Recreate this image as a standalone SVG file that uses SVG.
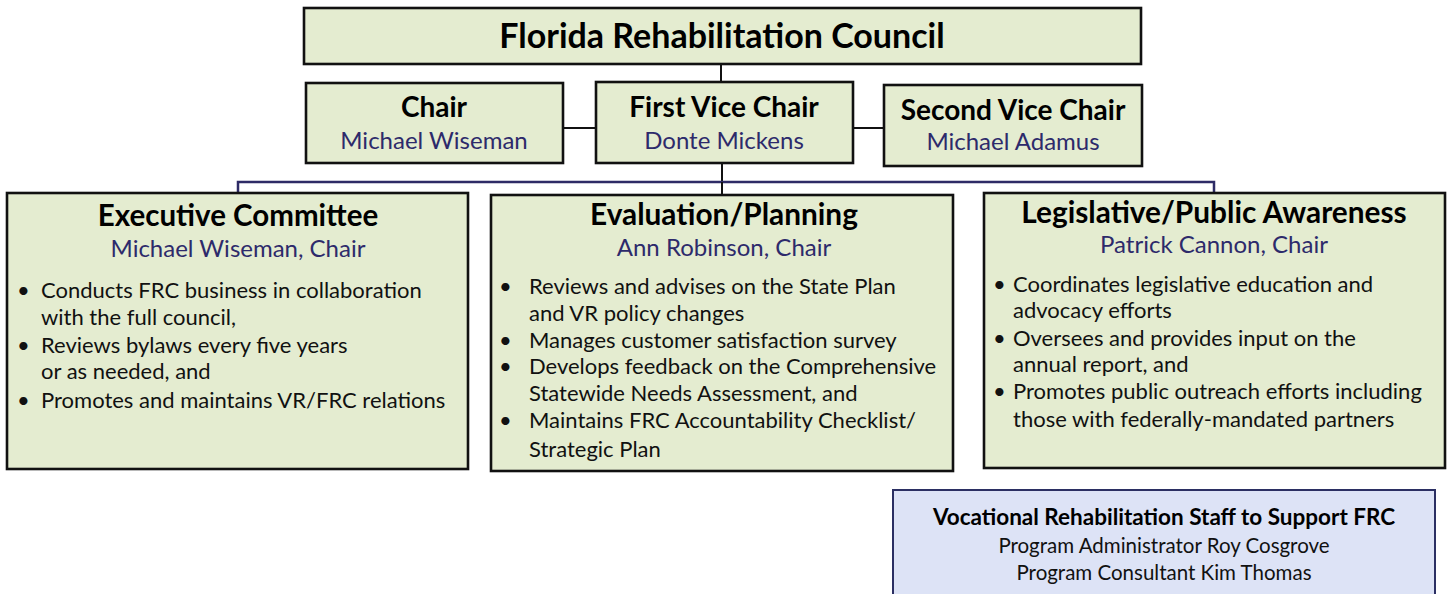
<svg xmlns="http://www.w3.org/2000/svg" width="1449" height="594" viewBox="0 0 1449 594">
<style>
text{font-family:Lato,"Open Sans","Liberation Sans",sans-serif;}
.box{fill:#e4ecd0;stroke:#111;stroke-width:2.6;}
.staff{fill:#dde3f6;stroke:#2b2f63;stroke-width:2;}
.ln{stroke:#111;stroke-width:2;fill:none;}
.nv{stroke:#2e2b66;stroke-width:2.5;fill:none;}
.h{font-weight:700;fill:#000;text-anchor:middle;}
.nm{fill:#2d2a6b;text-anchor:middle;font-size:24px;}
.b{fill:#111;font-size:22px;}
.c{text-anchor:middle;fill:#111;}
</style>
<g id="connectors">
<path class="ln" d="M721 64V83M563 128H596M853 128H884M722 163V182"/>
<path class="nv" d="M238 193V182H1214V193"/>
<path class="ln" d="M722 182V195"/>
</g>
<g id="council">
<rect class="box" x="304" y="8" width="837" height="56"/>
<text class="h" x="722" y="48" font-size="34">Florida Rehabilitation Council</text>
</g>
<g id="chair">
<rect class="box" x="306" y="83" width="257" height="80"/>
<text class="h" x="434" y="117" font-size="28">Chair</text>
<text class="nm" x="434" y="149">Michael Wiseman</text>
</g>
<g id="first-vice-chair">
<rect class="box" x="596" y="82" width="257" height="81"/>
<text class="h" x="724" y="117" font-size="28">First Vice Chair</text>
<text class="nm" x="724" y="149">Donte Mickens</text>
</g>
<g id="second-vice-chair">
<rect class="box" x="884" y="85" width="258" height="81"/>
<text class="h" x="1013" y="120" font-size="28">Second Vice Chair</text>
<text class="nm" x="1013" y="150">Michael Adamus</text>
</g>
<g id="executive-committee">
<rect class="box" x="7" y="193" width="461" height="276"/>
<text class="h" x="238" y="226" font-size="29.5">Executive Committee</text>
<text class="nm" x="238" y="257">Michael Wiseman, Chair</text>
<g class="b">
<text x="17" y="298">•</text><text x="41" y="298">Conducts FRC business in collaboration</text>
<text x="41" y="325">with the full council,</text>
<text x="17" y="353">•</text><text x="41" y="353">Reviews bylaws every five years</text>
<text x="41" y="379">or as needed, and</text>
<text x="17" y="408">•</text><text x="41" y="408">Promotes and maintains VR/FRC relations</text>
</g>
</g>
<g id="evaluation-planning">
<rect class="box" x="491" y="195" width="462" height="276"/>
<text class="h" x="724" y="225" font-size="29.8">Evaluation/Planning</text>
<text class="nm" x="724" y="256">Ann Robinson, Chair</text>
<g class="b">
<text x="499" y="294">•</text><text x="529" y="294">Reviews and advises on the State Plan</text>
<text x="529" y="321">and VR policy changes</text>
<text x="499" y="348">•</text><text x="529" y="348">Manages customer satisfaction survey</text>
<text x="499" y="374">•</text><text x="529" y="374">Develops feedback on the Comprehensive</text>
<text x="529" y="401">Statewide Needs Assessment, and</text>
<text x="499" y="428">•</text><text x="529" y="428">Maintains FRC Accountability Checklist/</text>
<text x="529" y="457">Strategic Plan</text>
</g>
</g>
<g id="legislative-public-awareness">
<rect class="box" x="984" y="193" width="461" height="275"/>
<text class="h" x="1214" y="223" font-size="29.8">Legislative/Public Awareness</text>
<text class="nm" x="1214" y="253">Patrick Cannon, Chair</text>
<g class="b">
<text x="993" y="292">•</text><text x="1013" y="292">Coordinates legislative education and</text>
<text x="1013" y="318">advocacy efforts</text>
<text x="993" y="346">•</text><text x="1013" y="346">Oversees and provides input on the</text>
<text x="1013" y="372">annual report, and</text>
<text x="993" y="399">•</text><text x="1013" y="399">Promotes public outreach efforts including</text>
<text x="1013" y="427">those with federally-mandated partners</text>
</g>
</g>
<g id="vr-staff">
<rect class="staff" x="893" y="490" width="542" height="110"/>
<text class="h" x="1164" y="525" font-size="22.5">Vocational Rehabilitation Staff to Support FRC</text>
<text class="c" x="1164" y="553" font-size="20.5">Program Administrator Roy Cosgrove</text>
<text class="c" x="1164" y="580" font-size="20.5">Program Consultant Kim Thomas</text>
</g>
</svg>
